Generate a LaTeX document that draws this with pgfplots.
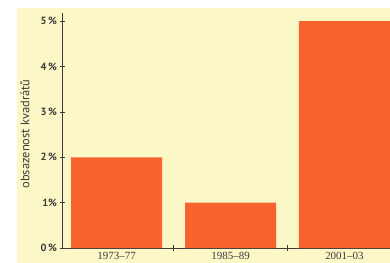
\documentclass[border=0pt]{standalone}
\usepackage{fontspec}
\setmainfont{PT Sans}
\newfontfamily\serifnum{Liberation Serif}
\usepackage{pgfplots}
\pgfplotsset{compat=1.18}
\definecolor{bgyellow}{HTML}{FCF7C6}
\definecolor{barred}{HTML}{F7622F}
\definecolor{txtgray}{HTML}{3C3C3C}
\begin{document}
\begin{tikzpicture}[x=1bp,y=1bp]
\useasboundingbox (0,0) rectangle (390,263);
\fill[white] (0,0) rectangle (390,263);
\fill[bgyellow] (17,0) rectangle (390,255);
\begin{axis}[
  at={(62bp,15bp)}, anchor=south west,
  scale only axis, width=328bp, height=235bp,
  xmin=-0.48, xmax=2.4, ymin=0, ymax=5.18,
  axis lines=left, axis line style={-, draw=txtgray, line width=0.8pt},
  clip=false,
  xtick={0,1,2},
  xticklabels={1973–77,1985–89,2001–03},
  major x tick style={draw=none},
  minor xtick={0.5,1.5},
  minor x tick style={draw=txtgray, line width=0.6pt},
  minor tick length=6bp,
  xtick align=center,
  ytick={0,1,2,3,4,5},
  yticklabels={0\,\%,1\%,2\,\%,3\,\%,4\,\%,5\,\%},
  ytick align=center,
  major tick length=5bp,
  y tick style={draw=txtgray, line width=0.6pt},
  xticklabel style={font=\serifnum\fontsize{11}{12}\selectfont, text=txtgray, yshift=1.5bp},
  yticklabel style={font=\fontsize{10.5}{12}\selectfont\bfseries, text=txtgray, xshift=1bp},
  ylabel={obsazenost kvadrátů},
  ylabel style={at={(axis description cs:-0.113,0.485)}, anchor=center, font=\fontsize{12.5}{14}\selectfont, text=txtgray},
]
\addplot[ybar, bar width=0.8, fill=barred, draw=none] coordinates {(0,2) (1,1) (2,5)};
\end{axis}
\end{tikzpicture}
\end{document}
